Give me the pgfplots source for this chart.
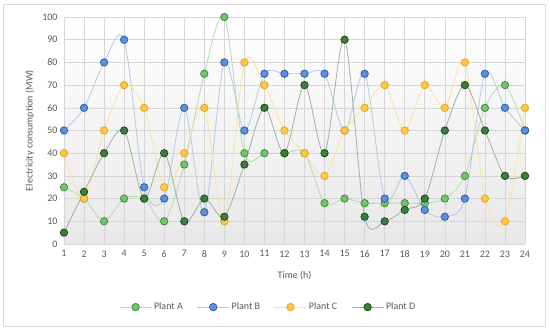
\documentclass[border=0pt]{standalone}
\usepackage{fontspec}
\setmainfont{Carlito}
\usepackage{pgfplots}
\pgfplotsset{compat=1.18}
\definecolor{txt}{HTML}{595959}
\definecolor{Afill}{HTML}{72C36A}\definecolor{Aedge}{HTML}{3E8F3A}\definecolor{Aline}{HTML}{B3DBAA}
\definecolor{Bfill}{HTML}{5C90DE}\definecolor{Bedge}{HTML}{2E5DA6}\definecolor{Bline}{HTML}{B2C9EA}
\definecolor{Cfill}{HTML}{FFC844}\definecolor{Cedge}{HTML}{E3A520}\definecolor{Cline}{HTML}{FFE29A}
\definecolor{Dfill}{HTML}{3F7D3C}\definecolor{Dedge}{HTML}{1D4A1C}\definecolor{Dline}{HTML}{9FB39E}
\begin{document}
\begin{tikzpicture}
\path (0pt,0pt) rectangle (550pt,330pt);
\draw[color=black!15, line width=0.8pt] (3pt,4pt) rectangle (545pt,326pt);
\begin{axis}[
  at={(64pt,86pt)}, anchor=south west, scale only axis,
  width=461pt, height=227pt,
  xmin=1, xmax=24, ymin=0, ymax=100,
  xtick={1,...,24}, ytick={0,10,...,100},
  major tick length=0pt,
  grid=major, grid style={color=black!16, line width=0.6pt},
  axis line style={draw=none},
  axis background/.style={shade, top color=white, middle color=white, bottom color=black!9},
  tick label style={font=\fontsize{10}{12}\selectfont, text=txt},
  /pgf/number format/assume math mode=true,
  xticklabel style={yshift=-3pt},
  yticklabel style={xshift=-3pt},
  xlabel={Time (h)}, ylabel={Electricity consumption (MW)},
  label style={font=\fontsize{10}{12}\selectfont, text=txt},
  xlabel style={at={(axis description cs:0.5,-0.141)}, anchor=center},
  ylabel style={at={(axis description cs:-0.074,0.5)}, anchor=center, rotate=0},
  legend columns=4,
  legend style={at={(axis description cs:0.443,-0.278)}, anchor=center, draw=none, fill=none,
    font=\fontsize{10}{12}\selectfont, text=txt,
    /tikz/every even column/.append style={column sep=12pt}},
  legend image code/.code={\draw[mark repeat=2,mark phase=2] plot coordinates {(0pt,0pt) (16pt,0pt) (32pt,0pt)};},
  every axis plot/.append style={smooth, tension=0.5, line width=0.8pt, mark=*, mark size=3.7pt,
    mark options={line width=0.8pt}},
]
\addplot[color=Aline, mark options={fill=Afill, draw=Aedge}] coordinates {
(1,25)(2,20)(3,10)(4,20)(5,20)(6,10)(7,35)(8,75)(9,100)(10,40)(11,40)(12,40)
(13,40)(14,18)(15,20)(16,18)(17,18)(18,18)(19,18)(20,20)(21,30)(22,60)(23,70)(24,50)};
\addlegendentry{Plant A}
\addplot[color=Bline, mark options={fill=Bfill, draw=Bedge}] coordinates {
(1,50)(2,60)(3,80)(4,90)(5,25)(6,20)(7,60)(8,14)(9,80)(10,50)(11,75)(12,75)
(13,75)(14,75)(15,50)(16,75)(17,20)(18,30)(19,15)(20,12)(21,20)(22,75)(23,60)(24,50)};
\addlegendentry{Plant B}
\addplot[color=Cline, mark options={fill=Cfill, draw=Cedge}] coordinates {
(1,40)(2,20)(3,50)(4,70)(5,60)(6,25)(7,40)(8,60)(9,10)(10,80)(11,70)(12,50)
(13,40)(14,30)(15,50)(16,60)(17,70)(18,50)(19,70)(20,60)(21,80)(22,20)(23,10)(24,60)};
\addlegendentry{Plant C}
\addplot[color=Dline, mark options={fill=Dfill, draw=Dedge}] coordinates {
(1,5)(2,23)(3,40)(4,50)(5,20)(6,40)(7,10)(8,20)(9,12)(10,35)(11,60)(12,40)
(13,70)(14,40)(15,90)(16,12)(17,10)(18,15)(19,20)(20,50)(21,70)(22,50)(23,30)(24,30)};
\addlegendentry{Plant D}
\end{axis}
\end{tikzpicture}
\end{document}
